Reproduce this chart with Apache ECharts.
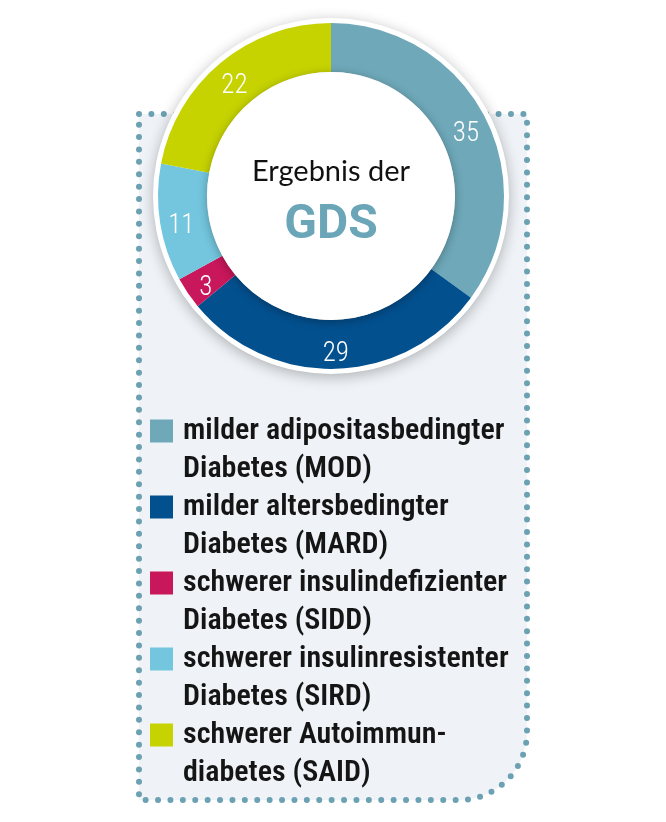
<!DOCTYPE html>
<html>
<head>
<meta charset="utf-8">
<script src="https://cdn.jsdelivr.net/npm/echarts@6/dist/echarts.min.js"></script>
<style>
  html, body { margin: 0; padding: 0; background: #fff; }
  #main { width: 666px; height: 822px; }
</style>
</head>
<body>
<div id="main"></div>
<script>
// Daten der Grafik
var kategorien = ['MOD', 'MARD', 'SIDD', 'SIRD', 'SAID'];
var werte = [35, 29, 3, 11, 22];
var farben = ['#6ea8b9', '#03508f', '#c8175a', '#73c6de', '#c6d300'];
var legendenText = [
    'milder adipositasbedingter\nDiabetes (MOD)',
    'milder altersbedingter\nDiabetes (MARD)',
    'schwerer insulindefizienter\nDiabetes (SIDD)',
    'schwerer insulinresistenter\nDiabetes (SIRD)',
    'schwerer Autoimmun-\ndiabetes (SAID)'
];

!function() {
    var myChart = echarts.init(document.getElementById('main'));

    var mitte = [331, 196];
    var schrift = "'Roboto Condensed', 'DejaVu Sans Condensed', Roboto, sans-serif";

    var daten = kategorien.map(function(k, i) {
        return { name: k, value: werte[i], itemStyle: { color: farben[i] } };
    });

    var option = {
        animation: false,
        backgroundColor: '#fff',
        graphic: [{
            // gepunkteter Kasten hinter dem Ring
            type: 'rect',
            z: -10,
            shape: { x: 139, y: 114, width: 388, height: 686, r: [0, 0, 68, 0] },
            style: {
                fill: '#eff3f7',
                stroke: '#6ba1b2',
                lineWidth: 6,
                lineDash: [0, 12.4],
                lineCap: 'round'
            }
        }, {
            type: 'text',
            z: 100,
            style: {
                x: mitte[0], y: 172,
                text: 'Ergebnis der',
                align: 'center', verticalAlign: 'middle',
                fontFamily: 'Lato', fontSize: 29,
                fill: '#111'
            }
        }, {
            type: 'text',
            z: 100,
            style: {
                x: mitte[0], y: 226,
                text: 'GDS',
                align: 'center', verticalAlign: 'middle',
                fontFamily: 'Roboto', fontWeight: 'bold', fontSize: 48,
                fill: '#6aa6b8'
            }
        }],
        legend: {
            orient: 'vertical',
            left: 145,
            top: 369,
            icon: 'rect',
            itemWidth: 23,
            itemHeight: 23,
            itemGap: -38,
            selectedMode: false,
            data: kategorien,
            formatter: function(name) {
                return '\n' + legendenText[kategorien.indexOf(name)];
            },
            textStyle: {
                fontFamily: schrift,
                fontWeight: 600,
                fontSize: 30,
                lineHeight: 38,
                color: '#151515',
                padding: [0, 0, 0, 5]
            }
        },
        series: [{
            // weißer Rand mit Schatten
            type: 'pie',
            silent: true,
            center: mitte,
            radius: [0, 178],
            label: { show: false },
            data: [{ value: 1, name: '_rand', itemStyle: { color: '#fff', shadowBlur: 14, shadowColor: 'rgba(0,0,0,0.28)', shadowOffsetY: 3 } }],
            z: 1
        }, {
            type: 'pie',
            name: 'GDS',
            center: mitte,
            radius: [124, 173],
            startAngle: 90,
            silent: true,
            label: {
                show: true,
                position: 'inside',
                color: '#fff',
                fontFamily: schrift,
                fontWeight: 300,
                fontSize: 27,
                lineHeight: 14,
                // leere erste Zeile schiebt die Zahl etwas nach unten
                formatter: '\n{c}'
            },
            labelLine: { show: false },
            data: daten,
            z: 2
        }, {
            // Innenkreis mit leichtem Schatten
            type: 'pie',
            silent: true,
            center: mitte,
            radius: [0, 124],
            label: { show: false },
            data: [{ value: 1, name: '_innen', itemStyle: { color: '#fff', shadowBlur: 10, shadowColor: 'rgba(0,0,0,0.3)', shadowOffsetY: 2 } }],
            z: 3
        }]
    };

    myChart.setOption(option);
}();
</script>
</body>
</html>
